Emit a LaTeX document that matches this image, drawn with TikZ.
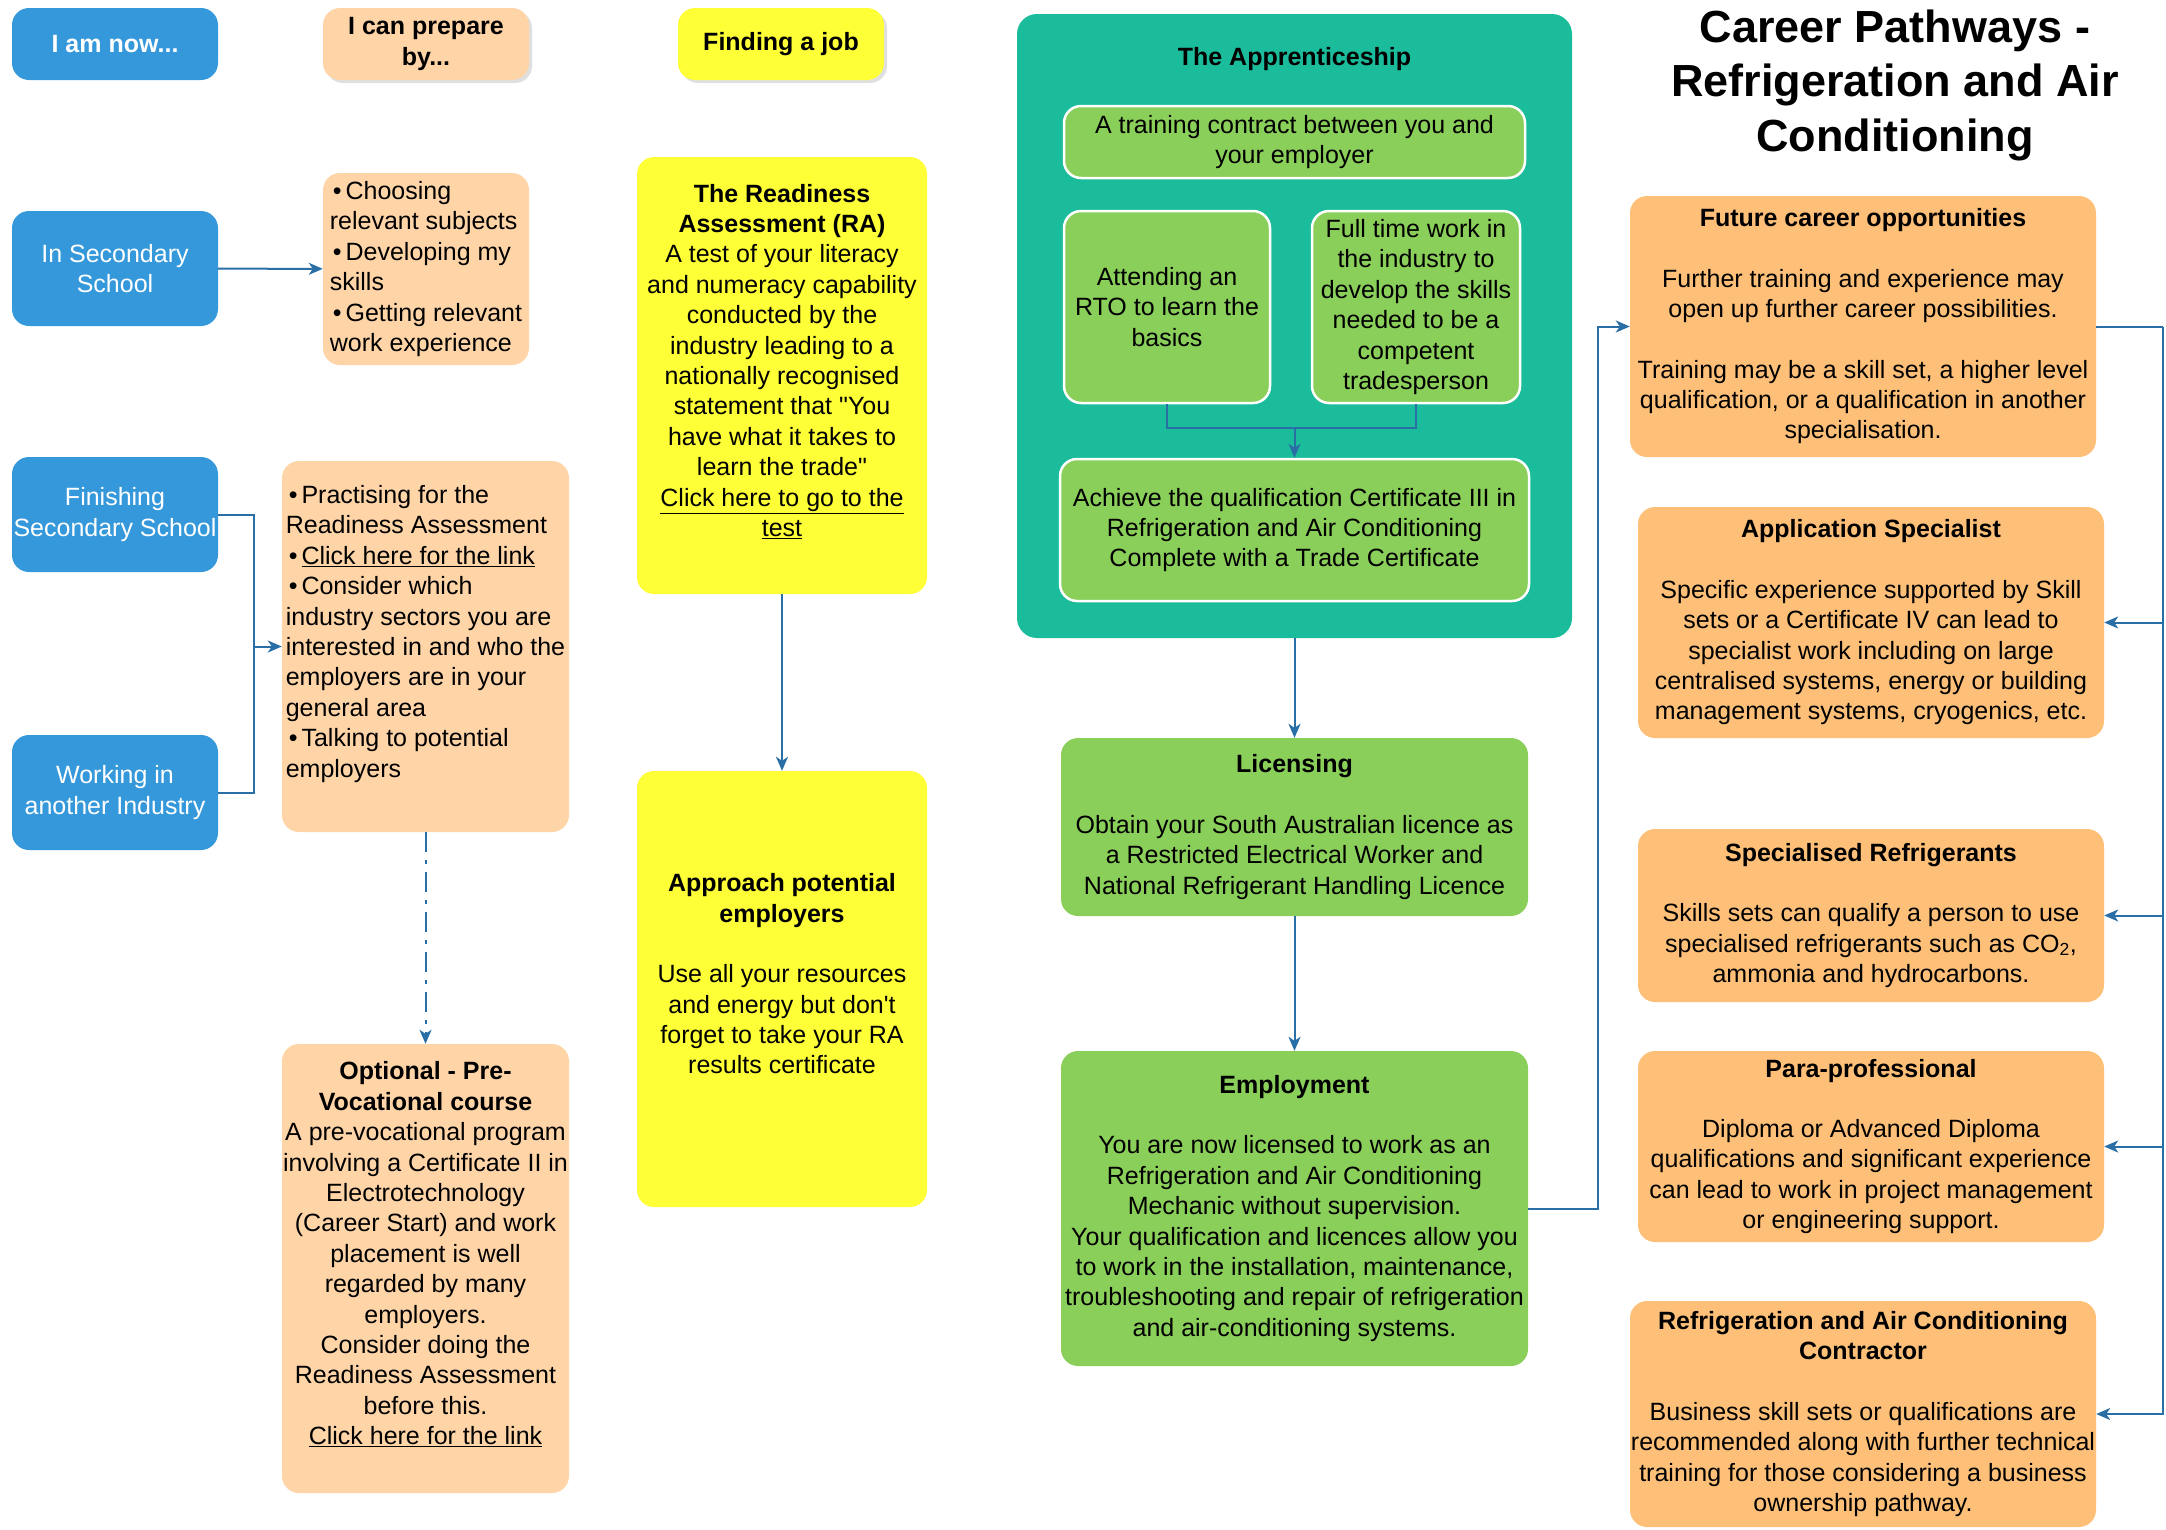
\documentclass[tikz,border=0pt]{standalone}
\usepackage{fontspec}
\setmainfont{Liberation Sans}
\usetikzlibrary{shadows,arrows.meta}
\definecolor{boxblue}{HTML}{3598DB}
\definecolor{boxpeach}{HTML}{FFD5A8}
\definecolor{boxyellow}{HTML}{FFFF38}
\definecolor{boxteal}{HTML}{1BBC9B}
\definecolor{boxgreen}{HTML}{8BCF5B}
\definecolor{boxorange}{HTML}{FEC078}
\definecolor{linkblue}{HTML}{2A6EA6}
\newcommand{\bodyfont}{\fontsize{25}{30.4}\selectfont}
\newcommand{\titlefont}{\fontsize{45}{54.5}\selectfont\bfseries}
\newcommand{\bul}{\hspace{3pt}•\hspace{4pt}}
\begin{document}
\begin{tikzpicture}[>={Stealth[length=14pt,width=12pt,inset=4pt]}, x=1pt, y=-1pt, font=\bodyfont,
  box/.style={rounded corners=17pt, inner sep=0pt, align=center},
  sz/.style 2 args={minimum width=#1pt, minimum height=#2pt},
  bluebox/.style={box, fill=boxblue, text=white},
  peachbox/.style={box, fill=boxpeach},
  yellowbox/.style={box, fill=boxyellow},
  greenbox/.style={box, fill=boxgreen},
  inbox/.style={greenbox, draw=white, line width=2.5pt},
  orangebox/.style={box, fill=boxorange},
  shade/.style={drop shadow={shadow xshift=3pt, shadow yshift=-3pt, opacity=0.25}},
  link/.style={draw=linkblue, line width=2pt}]
\useasboundingbox (0,0) rectangle (2166,1529);
% column headings
\node[bluebox, sz={206}{72}] (iam) at (115,44) {\textbf{I am now...}};
\node[peachbox, shade, sz={206}{72}] (prep) at (426,44) {\textbf{I can prepare}\\\textbf{by...}};
\node[yellowbox, shade, sz={206}{72}] (findjob) at (781,44) {\textbf{Finding a job}};
% where I am now
\node[bluebox, sz={206}{115}] (insec) at (115,268.5) {In Secondary\\School};
\node[bluebox, sz={206}{115}] (finish) at (115,514.5) {Finishing\\Secondary School};
\node[bluebox, sz={206}{115}] (working) at (115,792.5) {Working in\\another Industry};
% how to prepare
\node[peachbox, sz={206}{192}, align=left] (bulA) at (426,269)
  {\bul Choosing\\relevant subjects\\\bul Developing my\\skills\\\bul Getting relevant\\work experience};
\node[peachbox, sz={287}{371}, align=left] (bulB) at (425.5,646.5)
  {\bul Practising for the\\Readiness Assessment\\\bul\underline{Click here for the link}\\\bul Consider which\\industry sectors you are\\interested in and who the\\employers are in your\\general area\\\bul Talking to potential\\employers\\\mbox{}};
\node[peachbox, sz={287}{449}] (optional) at (425.5,1268.5)
  {\textbf{Optional - Pre-}\\\textbf{Vocational course}\\A pre-vocational program\\involving a Certificate II in\\Electrotechnology\\(Career Start) and work\\placement is well\\regarded by many\\employers.\\Consider doing the\\Readiness Assessment\\before this.\\\underline{Click here for the link}\\\mbox{}};
% finding a job
\node[yellowbox, sz={290}{437}] (ra) at (782,375.5)
  {\textbf{The Readiness}\\\textbf{Assessment (RA)}\\A test of your literacy\\and numeracy capability\\conducted by the\\industry leading to a\\nationally recognised\\statement that \textquotedbl You\\have what it takes to\\learn the trade\textquotedbl\\\underline{Click here to go to the}\\\underline{test}\\\mbox{}};
\node[yellowbox, sz={290}{436}] (approach) at (782,989)
  {\textbf{Approach potential}\\\textbf{employers}\\[30pt]Use all your resources\\and energy but don\textquotesingle t\\forget to take your RA\\results certificate\\\mbox{}};
% the apprenticeship
\node[box, rounded corners=20pt, fill=boxteal, sz={555}{624}] (appr) at (1294.5,326) {};
\node (apprT) at (1294.5,59) {\textbf{The Apprenticeship}};
\node[inbox, sz={461}{72}] (contract) at (1294.5,142) {A training contract between you and\\your employer};
\node[inbox, sz={206}{192}] (rto) at (1167,307) {Attending an\\RTO to learn the\\basics};
\node[inbox, sz={208}{192}] (full) at (1416,307) {Full time work in\\the industry to\\develop the skills\\needed to be a\\competent\\tradesperson};
\node[inbox, sz={469}{142}] (achieve) at (1294.5,530) {Achieve the qualification Certificate III in\\Refrigeration and Air Conditioning\\Complete with a Trade Certificate};
\node[greenbox, sz={467}{178}] (lic) at (1294.5,827)
  {\textbf{Licensing}\\[30pt]Obtain your South Australian licence as\\a Restricted Electrical Worker and\\National Refrigerant Handling Licence};
\node[greenbox, sz={467}{315}] (emp) at (1294.5,1208.5)
  {\textbf{Employment}\\[30pt]You are now licensed to work as an\\Refrigeration and Air Conditioning\\Mechanic without supervision.\\Your qualification and licences allow you\\to work in the installation, maintenance,\\troubleshooting and repair of refrigeration\\and air-conditioning systems.};
% title and future pathways
\node[align=center, font=\titlefont] (title) at (1895,85) {Career Pathways -\\Refrigeration and Air\\Conditioning};
\node[orangebox, sz={466}{261}] (future) at (1863,326.5)
  {\textbf{Future career opportunities}\\[30pt]Further training and experience may\\open up further career possibilities.\\[30pt]Training may be a skill set, a higher level\\qualification, or a qualification in another\\specialisation.};
\node[orangebox, sz={466}{231}] (app) at (1871,622.5)
  {\textbf{Application Specialist}\\[30pt]Specific experience supported by Skill\\sets or a Certificate IV can lead to\\specialist work including on large\\centralised systems, energy or building\\management systems, cryogenics, etc.};
\node[orangebox, sz={466}{173}] (spec) at (1871,915.5)
  {\textbf{Specialised Refrigerants}\\[30pt]Skills sets can qualify a person to use\\specialised refrigerants such as CO\textsubscript{2},\\ammonia and hydrocarbons.};
\node[orangebox, sz={466}{191}] (para) at (1871,1146.5)
  {\textbf{Para-professional}\\[30pt]Diploma or Advanced Diploma\\qualifications and significant experience\\can lead to work in project management\\or engineering support.};
\node[orangebox, sz={466}{226}] (contr) at (1863,1414)
  {\textbf{Refrigeration and Air Conditioning}\\\textbf{Contractor}\\[30pt]Business skill sets or qualifications are\\recommended along with further technical\\training for those considering a business\\ownership pathway.};
% connectors
\coordinate (jL) at (254,646.5);
\coordinate (jA) at (1294.5,428);
\coordinate (jR) at (1598,326.5);
\coordinate (jT) at (2163,326.5);
\draw[link,->] (insec) -- (bulA);
\draw[link] (finish.east) -| (jL) |- (working.east);
\draw[link,->] (jL) -- (bulB.west);
\draw[link,->,dash pattern=on 20pt off 8pt on 4pt off 8pt] (bulB.south) -- (optional.north);
\draw[link,->] (ra) -- (approach);
\draw[link] (rto.south) |- (jA) -| (full.south);
\draw[link,->] (jA) -- (achieve.north);
\draw[link,->] (appr) -- (lic);
\draw[link,->] (lic) -- (emp);
\draw[link,->] (emp.east) -| (jR) -- (future.west);
\draw[link] (future.east) -- (jT);
\draw[link,->] (jT) |- (contr.east);
\foreach \n in {app,spec,para}
  \draw[link,->] (jT |- \n.east) -- (\n.east);
\end{tikzpicture}
\end{document}
